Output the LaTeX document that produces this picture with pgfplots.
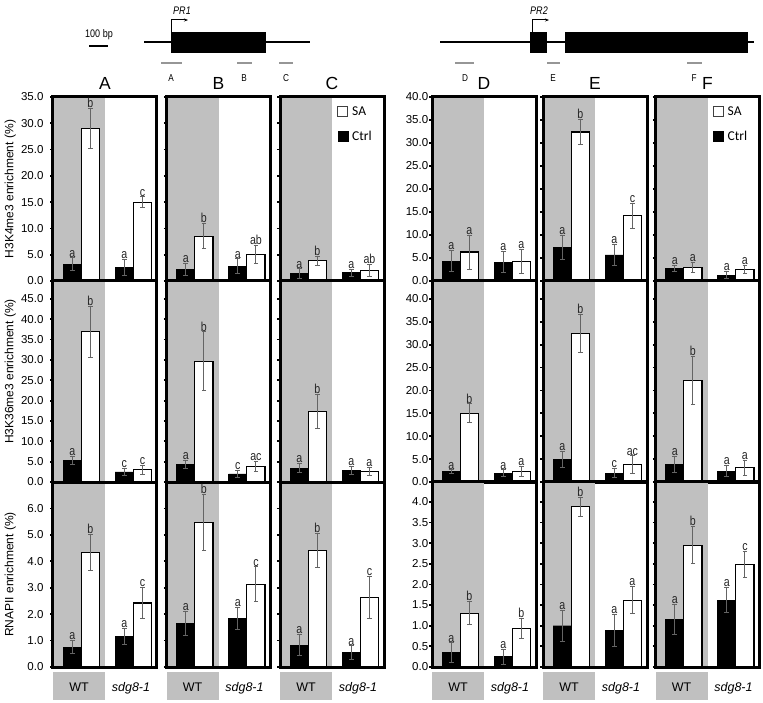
\documentclass[border=0pt]{standalone}
\usepackage{fontspec}
\setmainfont{Liberation Sans}
\newfontfamily\narrow[FakeStretch=0.82]{Liberation Sans}
\newfontfamily\carlito{Carlito}
\usepackage{pgfplots}
\usepackage{pgfplotstable}
\pgfplotsset{compat=1.18}
\usetikzlibrary{arrows.meta}
\definecolor{bg}{RGB}{192,192,192}
\definecolor{eb}{RGB}{100,100,100}
\definecolor{probe}{RGB}{150,150,150}

% columns: Ctrl mean, err, letter ; SA mean, err, letter ; rows: WT, sdg8-1
\pgfplotstableread{
c ce cl s se sl
3.2 1.2 a 29.0 3.8 b
2.6 1.5 a 15.0 1.0 c
}\tRA
\pgfplotstableread{
c ce cl s se sl
2.2 1.1 a 8.5 2.4 b
2.8 1.4 a 5.1 1.75 ab
}\tRB
\pgfplotstableread{
c ce cl s se sl
1.4 0.9 a 3.85 0.8 b
1.6 0.65 a 2.0 1.1 ab
}\tRC
\pgfplotstableread{
c ce cl s se sl
4.3 2.3 a 6.3 3.7 a
4.1 2.25 a 4.2 2.6 a
}\tRD
\pgfplotstableread{
c ce cl s se sl
7.3 2.7 a 32.4 2.8 b
5.7 2.3 a 14.2 2.75 c
}\tRE
\pgfplotstableread{
c ce cl s se sl
2.7 0.6 a 2.9 1.1 a
1.3 0.7 a 2.5 0.9 a
}\tRF
\pgfplotstableread{
c ce cl s se sl
5.4 1.0 a 36.9 6.2 b
2.5 0.9 c 3.0 1.15 c
}\tSA
\pgfplotstableread{
c ce cl s se sl
4.4 1.0 a 29.7 7.2 b
2.0 0.8 c 3.85 1.2 ac
}\tSB
\pgfplotstableread{
c ce cl s se sl
3.4 1.1 a 17.3 4.2 b
2.9 1.0 a 2.6 0.95 a
}\tSC
\pgfplotstableread{
c ce cl s se sl
2.3 0.35 a 15.0 2.05 b
1.9 0.75 a 2.3 1.1 a
}\tSD
\pgfplotstableread{
c ce cl s se sl
4.9 1.8 a 32.5 4.2 b
1.9 1.0 c 3.8 1.9 ac
}\tSE
\pgfplotstableread{
c ce cl s se sl
3.85 1.7 a 22.2 5.2 b
2.4 1.2 a 3.1 1.6 a
}\tSF
\pgfplotstableread{
c ce cl s se sl
0.75 0.25 a 4.34 0.68 b
1.16 0.30 a 2.42 0.58 c
}\tPA
\pgfplotstableread{
c ce cl s se sl
1.64 0.46 a 5.48 1.06 b
1.84 0.43 a 3.13 0.66 c
}\tPB
\pgfplotstableread{
c ce cl s se sl
0.83 0.40 a 4.42 0.64 b
0.55 0.25 a 2.63 0.79 c
}\tPC
\pgfplotstableread{
c ce cl s se sl
0.35 0.235 a 1.30 0.28 b
0.25 0.18 a 0.94 0.24 b
}\tPD
\pgfplotstableread{
c ce cl s se sl
1.00 0.37 a 3.88 0.23 b
0.89 0.39 a 1.62 0.33 a
}\tPE
\pgfplotstableread{
c ce cl s se sl
1.16 0.36 a 2.95 0.45 b
1.62 0.30 a 2.49 0.31 c
}\tPF

\pgfplotsset{
  legend image code/.code={\draw[#1] (0pt,-5pt) rectangle (10pt,5pt);},
  panel/.style={
    scale only axis, anchor=south west, width=104pt,
    xmin=0, xmax=2, ymin=0, axis on top, clip=false,
    axis line style={line width=3pt},
    xtick=\empty, ytick pos=left, tick align=outside,
    major tick length=2.6pt, major tick style={line width=1.8pt, black},
    /pgf/number format/assume math mode=true,
    tick label style={font=\fontsize{11.5}{13}\selectfont},
    yticklabel style={/pgf/number format/fixed, /pgf/number format/fixed zerofill, /pgf/number format/precision=1},
    every axis y label/.style={at={(rel axis cs:-0.41,0.5)}, rotate=90, anchor=center, font=\fontsize{12}{14}\selectfont},
    title style={font=\fontsize{17.5}{20}\selectfont, at={(0.5,1)}, anchor=base, yshift=1.5pt},
    legend style={draw=none, fill=none, at={(0.55,0.955)}, anchor=north west,
      font=\carlito\fontsize{13.5}{16}\selectfont, row sep=12pt, inner sep=0pt,
      nodes={inner xsep=4pt, inner ysep=1pt}, cells={anchor=west}},
  },
  nolab/.style={yticklabel={\mbox{}}},
  xlabs/.style={xtick={0.5,1.5}, xticklabels={WT,\textit{sdg8-1}}, xtick style={draw=none},
    xticklabel style={font=\fontsize{12.5}{14}\selectfont, anchor=base, yshift=-22pt}},
  cbar/.style={ybar, bar shift=0pt, bar width=0.35, forget plot,
    error bars/y dir=both, error bars/y explicit,
    error bars/error bar style={eb, line width=0.9pt},
    error bars/error mark options={rotate=90, eb, mark size=2.3pt, line width=0.9pt}},
  lab/.style={forget plot, only marks, mark=*, mark size=0pt, mark options={draw=none, fill=none},
    nodes near coords, point meta=explicit symbolic,
    nodes near coords style={font=\narrow\fontsize{13}{15}\selectfont, anchor=south, inner sep=0.5pt, text=black!85}},
}

\newcommand{\panel}[8]{%
\begin{axis}[panel, at={(#1pt,#2pt)}, height=#3pt, ymax=#4, ytick={#6}, #7]
\fill[bg] (axis cs:0,0) rectangle (axis cs:1,#4);
\addplot[cbar, fill=black, draw=black] table[x expr=\coordindex+0.37, y=c, y error=ce]{#5};
\addplot[cbar, fill=white, draw=black, line width=1.1pt] table[x expr=\coordindex+0.72, y=s, y error=se]{#5};
\addplot[lab] table[x expr=\coordindex+0.37, y expr=\thisrow{c}+\thisrow{ce}, meta=cl]{#5};
\addplot[lab] table[x expr=\coordindex+0.72, y expr=\thisrow{s}+\thisrow{se}, meta=sl]{#5};
#8
\end{axis}}

\newcommand{\legendSA}{\addlegendimage{fill=white, draw=black!75, line width=0.8pt}\addlegendentry{SA}%
\addlegendimage{fill=black, draw=black}\addlegendentry{Ctrl}}
\newcommand{\wtbox}{\fill[bg] ([yshift=-5pt]axis cs:0,0) rectangle ([yshift=-33pt]axis cs:1,0);}

\begin{document}
\begin{tikzpicture}[x=1pt,y=1pt]
\useasboundingbox (0,0) rectangle (763,702);
% gene diagrams
\draw[line width=2.5pt] (89,656) -- (108,656);
\node[font=\narrow\fontsize{11}{12}\selectfont] at (99,667) {100 bp};
\draw[line width=1.8pt] (144,660) -- (310,660);
\fill (171,649) rectangle (266,670);
\draw[line width=1pt, -{Stealth[length=4pt]}] (171,670) -- (171,682) -- (188,682);
\node[font=\narrow\itshape\fontsize{11}{12}\selectfont] at (182,691) {PR1};
\foreach \a/\b in {161/182,237/252,279/293} \draw[probe, line width=2pt] (\a,639) -- (\b,639);
\node[font=\narrow\fontsize{10}{12}\selectfont] at (171,624) {A};
\node[font=\narrow\fontsize{10}{12}\selectfont] at (244,624) {B};
\node[font=\narrow\fontsize{10}{12}\selectfont] at (286,624) {C};
\draw[line width=1.8pt] (440,660) -- (754,660);
\fill (530,649) rectangle (547,670);
\fill (565,649) rectangle (748,670);
\draw[line width=1pt, -{Stealth[length=4pt]}] (532,670) -- (532,682) -- (549,682);
\node[font=\narrow\itshape\fontsize{11}{12}\selectfont] at (539,691) {PR2};
\foreach \a/\b in {455/474,547/560,687/702} \draw[probe, line width=2pt] (\a,639) -- (\b,639);
\node[font=\narrow\fontsize{10}{12}\selectfont] at (465,624) {D};
\node[font=\narrow\fontsize{10}{12}\selectfont] at (553,624) {E};
\node[font=\narrow\fontsize{10}{12}\selectfont] at (694,624) {F};

% Row 1: H3K4me3
\panel{53}{421}{184}{35}{\tRA}{0,5,...,35}{title=A, ylabel={H3K4me3 enrichment (\%)}, yticklabel style={xshift=-3.4pt}}{}
\panel{166.5}{421}{184}{35}{\tRB}{0,5,...,35}{title=B, nolab}{}
\panel{280}{421}{184}{35}{\tRC}{0,5,...,35}{title=C, nolab}{\legendSA}
\panel{432}{421}{184}{40}{\tRD}{0,5,...,40}{title=D, yticklabel style={xshift=2.3pt}}{}
\panel{543}{421}{184}{40}{\tRE}{0,5,...,40}{title=E, nolab}{}
\panel{655.5}{421}{184}{40}{\tRF}{0,5,...,40}{title=F, nolab}{\legendSA}
% Row 2: H3K36me3
\panel{53}{220}{201}{49.4}{\tSA}{0,5,...,45}{ylabel={H3K36me3 enrichment (\%)}, every axis y label/.append style={at={(rel axis cs:-0.41,0.55)}}, yticklabel style={xshift=-3.4pt}}{}
\panel{166.5}{220}{201}{49.4}{\tSB}{0,5,...,45}{nolab}{}
\panel{280}{220}{201}{49.4}{\tSC}{0,5,...,45}{nolab}{}
\panel{432}{220}{201}{43.9}{\tSD}{0,5,...,40}{yticklabel style={xshift=2.3pt}}{}
\panel{543}{220}{201}{43.9}{\tSE}{0,5,...,40}{nolab}{}
\panel{655.5}{220}{201}{43.9}{\tSF}{0,5,...,40}{nolab}{}
% Row 3: RNAPII
\panel{53}{35}{185}{7}{\tPA}{0,1,...,6}{ylabel={RNAPII enrichment (\%)}, yticklabel style={xshift=-3.4pt}, xlabs}{\wtbox}
\panel{166.5}{35}{185}{7}{\tPB}{0,1,...,6}{nolab, xlabs}{\wtbox}
\panel{280}{35}{185}{7}{\tPC}{0,1,...,6}{nolab, xlabs}{\wtbox}
\panel{432}{35}{185}{4.48}{\tPD}{0,0.5,...,4}{yticklabel style={xshift=2.3pt}, xlabs}{\wtbox}
\panel{543}{35}{185}{4.48}{\tPE}{0,0.5,...,4}{nolab, xlabs}{\wtbox}
\panel{655.5}{35}{185}{4.48}{\tPF}{0,0.5,...,4}{nolab, xlabs}{\wtbox}
\end{tikzpicture}
\end{document}
